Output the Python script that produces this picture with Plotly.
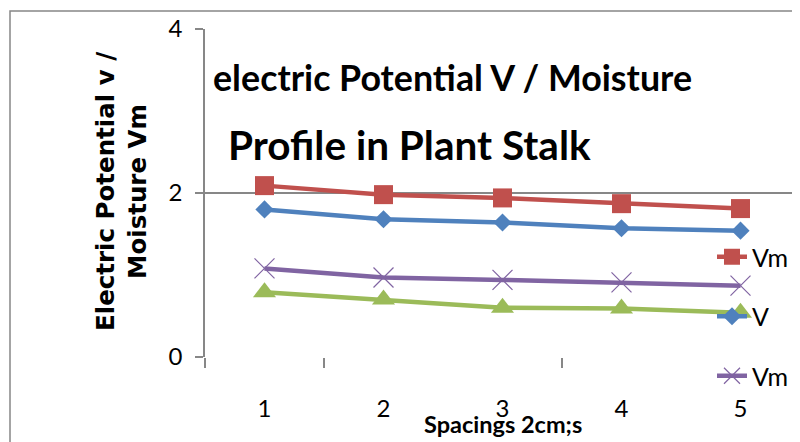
import plotly.graph_objects as go

categories = ["1", "2", "3", "4", "5"]
x_pos = [1, 2, 3, 4, 5]
vm_red = [2.09, 1.98, 1.94, 1.87, 1.81]
v_blue = [1.80, 1.68, 1.64, 1.57, 1.54]
vm_purple = [1.08, 0.97, 0.94, 0.91, 0.87]
green = [0.79, 0.70, 0.60, 0.59, 0.54]
y_ticks = [0, 2, 4]

NARROW = "Lato, Roboto, sans-serif"
GRAY = "#878787"

# the page body has an 8px margin; work in window pixels and subtract it
OFF = 8
W, H = 800 - OFF, 442 - OFF
L, T = 205 - OFF, 29 - OFF
R = 0
B = H - (357 - OFF)
PW = W - L - R
PH = H - T - B

def px(xp):
    return (xp - OFF - L) / PW

def py(yp):
    return (H - B - (yp - OFF)) / PH

fig = go.Figure()
fig.add_trace(go.Scatter(x=x_pos, y=vm_red, name="Vm", mode="lines+markers",
                         line=dict(color="#C0504D", width=4.5),
                         marker=dict(symbol="square", size=19, color="#C0504D"),
                         legendgroup="a"))
fig.add_trace(go.Scatter(x=x_pos, y=green, name="", mode="lines+markers",
                         line=dict(color="#9BBB59", width=4.5),
                         marker=dict(symbol="triangle-up", size=20, color="#9BBB59"),
                         showlegend=False))
fig.add_trace(go.Scatter(x=x_pos, y=v_blue, name="V", mode="lines+markers",
                         line=dict(color="#4F81BD", width=4.5),
                         marker=dict(symbol="diamond", size=14, color="#4F81BD"),
                         legendgroup="b"))
fig.add_trace(go.Scatter(x=x_pos, y=vm_purple, name="Vm", mode="lines+markers",
                         line=dict(color="#8064A2", width=4.5),
                         marker=dict(symbol="x-thin-open", size=20, color="#8064A2",
                                     line=dict(width=1.2, color="#8064A2")),
                         legendgroup="c"))

fig.update_layout(
    width=W, height=H,
    margin=dict(l=L, r=R, t=T, b=B, pad=0, autoexpand=False),
    paper_bgcolor="white", plot_bgcolor="white",
    showlegend=True,
    legend=dict(x=px(712), y=py(234), xanchor="left", yanchor="top",
                font=dict(family=NARROW, size=25, color="black"),
                tracegroupgap=24, bgcolor="rgba(0,0,0,0)",
                itemsizing="trace"),
    xaxis=dict(range=[0.5, 5.5], tickvals=x_pos, ticktext=categories,
               ticks="", showgrid=False, zeroline=False,
               showline=False,
               tickfont=dict(family=NARROW, size=24, color="black"),
               ticklabelstandoff=35,
               minor=dict(tickmode="array", tickvals=[0.5, 1.5, 3.5],
                          ticks="outside", ticklen=10, tickcolor=GRAY,
                          tickwidth=1.5, showgrid=False)),
    yaxis=dict(range=[0, 4], tickvals=y_ticks, ticks="outside", ticklen=8,
               tickcolor=GRAY, tickwidth=1.5, showline=True, linecolor=GRAY,
               linewidth=1.5, showgrid=True, gridcolor=GRAY, gridwidth=1.5,
               zeroline=False,
               tickfont=dict(family=NARROW, size=24, color="black"),
               ticklabelstandoff=8),
)

fig.add_annotation(text="electric Potential V / Moisture", xref="paper", yref="paper",
                   x=px(211), y=py(77), xanchor="left", yanchor="middle",
                   showarrow=False,
                   font=dict(family=NARROW, size=35.8, color="black", weight="bold"))
fig.add_annotation(text="Profile in Plant Stalk", xref="paper", yref="paper",
                   x=px(409), y=py(144), xanchor="center", yanchor="middle",
                   showarrow=False,
                   font=dict(family=NARROW, size=40.5, color="black", weight="bold"))
fig.add_annotation(text="Electric Potential v /<br>Moisture Vm", xref="paper", yref="paper",
                   x=px(121), y=py(192), xanchor="center", yanchor="middle",
                   textangle=-90, showarrow=False,
                   font=dict(family="DejaVu Sans, sans-serif", size=24.5, color="black",
                             weight="bold"))
fig.add_annotation(text="Spacings 2cm;s", xref="paper", yref="paper",
                   x=px(503), y=py(424), xanchor="center", yanchor="middle",
                   showarrow=False,
                   font=dict(family=NARROW, size=23.5, color="black", weight="bold"))

fig.add_shape(type="rect", xref="paper", yref="paper",
              x0=px(10), x1=px(830), y0=py(470), y1=py(11),
              line=dict(color=GRAY, width=1.5), fillcolor="rgba(0,0,0,0)", layer="below")

fig.write_html("out.html")
